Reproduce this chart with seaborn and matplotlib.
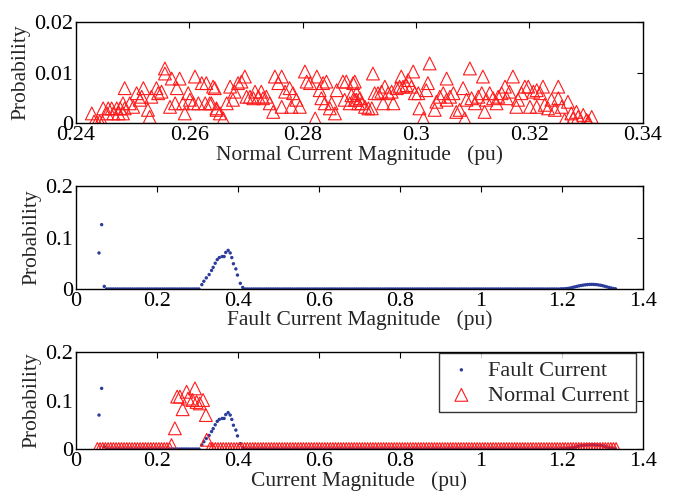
import numpy as np
import matplotlib
matplotlib.use("Agg")
import matplotlib.pyplot as plt
import seaborn as sns

# ---------------- data ----------------
# Top panel: normal current magnitude histogram (pu, probability)
normal_x = [0.2428, 0.2432, 0.2437, 0.2442, 0.2447, 0.2448, 0.2457, 0.2463, 0.2472, 0.2478,
            0.2486, 0.2455, 0.2466, 0.2475, 0.2483, 0.2483, 0.2486, 0.2495, 0.2501, 0.2507,
            0.2513, 0.2519, 0.2516, 0.2527, 0.2530, 0.2533, 0.2542, 0.2545, 0.2557, 0.2557,
            0.2551, 0.2566, 0.2569, 0.2578, 0.2583, 0.2575, 0.2589, 0.2598, 0.2601, 0.2610,
            0.2607, 0.2616, 0.2622, 0.2630, 0.2628, 0.2636, 0.2645, 0.2648, 0.2592,
            0.2642, 0.2639, 0.2648, 0.2654, 0.2660, 0.2672, 0.2680, 0.2686, 0.2692, 0.2698,
            0.2677, 0.2666, 0.2701, 0.2707, 0.2716, 0.2713, 0.2722, 0.2727, 0.2730, 0.2736,
            0.2742, 0.2748, 0.2751, 0.2763, 0.2757, 0.2769, 0.2763, 0.2777, 0.2783, 0.2780,
            0.2789, 0.2795, 0.2804, 0.2807, 0.2813, 0.2825, 0.2822, 0.2830, 0.2836, 0.2842,
            0.2833, 0.2839, 0.2851, 0.2848, 0.2857, 0.2860, 0.2871, 0.2877, 0.2874, 0.2883,
            0.2892, 0.2895, 0.2898,
            0.2889, 0.2895, 0.2886, 0.2892, 0.2901, 0.2904, 0.2910, 0.2916, 0.2922, 0.2924,
            0.2927, 0.2933, 0.2939, 0.2945, 0.2942, 0.2951, 0.2960, 0.2957, 0.2966, 0.2971,
            0.2974, 0.2977, 0.2983, 0.2986, 0.2992, 0.2995, 0.2998, 0.3004, 0.3006, 0.3013,
            0.3021, 0.3024, 0.3018, 0.3033, 0.3036, 0.3042, 0.3048, 0.3054, 0.3054, 0.3060,
            0.3066, 0.3071, 0.3077, 0.3083, 0.3086, 0.3089, 0.3095, 0.3098, 0.3104, 0.3110,
            0.3116, 0.3118, 0.3121, 0.3124, 0.3130, 0.3136, 0.3142,
            0.3145, 0.3151, 0.3157, 0.3160, 0.3165, 0.3171, 0.3177, 0.3180, 0.3186, 0.3192,
            0.3198, 0.3201, 0.3207, 0.3213, 0.3213, 0.3219, 0.3224, 0.3227, 0.3233, 0.3239,
            0.3245, 0.3251, 0.3251, 0.3257, 0.3262, 0.3268, 0.3274, 0.3277, 0.3283, 0.3286,
            0.3295, 0.3301, 0.3304, 0.3310]
normal_p = [0.0019, 0.0003, 0.0002, 0.0003, 0.0002, 0.0029, 0.0029, 0.0029, 0.0029, 0.0029,
            0.0029, 0.0019, 0.0019, 0.0019, 0.0019, 0.0039, 0.0069, 0.0039, 0.0032, 0.0059,
            0.0046, 0.0069, 0.0052, 0.0026, 0.0012, 0.0052, 0.0069, 0.0059, 0.0108, 0.0098,
            0.0062, 0.0032, 0.0088, 0.0069, 0.0088, 0.0039, 0.0039, 0.0059, 0.0046, 0.0092,
            0.0039, 0.0039, 0.0079, 0.0079, 0.0039, 0.0039, 0.0069, 0.0026, 0.0019,
            0.0072, 0.0039, 0.0029, 0.0019, 0.0009, 0.0072, 0.0062, 0.0079, 0.0082, 0.0092,
            0.0046, 0.0039, 0.0052, 0.0052, 0.0062, 0.0049, 0.0052, 0.0062, 0.0049, 0.0052,
            0.0039, 0.0022, 0.0092, 0.0092, 0.0079, 0.0062, 0.0032, 0.0069, 0.0059, 0.0032,
            0.0046, 0.0032, 0.0102, 0.0082, 0.0079, 0.0092, 0.0009, 0.0065, 0.0079, 0.0082,
            0.0049, 0.0039, 0.0039, 0.0029, 0.0019, 0.0065, 0.0082, 0.0082, 0.0046, 0.0039,
            0.0082, 0.0046, 0.0039,
            0.0079, 0.0059, 0.0055, 0.0046, 0.0049, 0.0039, 0.0032, 0.0029, 0.0029, 0.0098,
            0.0059, 0.0059, 0.0062, 0.0072, 0.0039, 0.0059, 0.0039, 0.0062, 0.0069, 0.0072,
            0.0092, 0.0072, 0.0075, 0.0085, 0.0072, 0.0102, 0.0059, 0.0059, 0.0029, 0.0009,
            0.0079, 0.0118, 0.0065, 0.0026, 0.0042, 0.0052, 0.0059, 0.0088, 0.0046, 0.0052,
            0.0059, 0.0022, 0.0026, 0.0069, 0.0009, 0.0046, 0.0108, 0.0049, 0.0039, 0.0052,
            0.0059, 0.0092, 0.0022, 0.0046, 0.0059, 0.0049, 0.0039,
            0.0052, 0.0059, 0.0072, 0.0049, 0.0062, 0.0092, 0.0032, 0.0046, 0.0059, 0.0072,
            0.0072, 0.0032, 0.0062, 0.0065, 0.0032, 0.0059, 0.0072, 0.0036, 0.0029, 0.0046,
            0.0026, 0.0072, 0.0049, 0.0032, 0.0006, 0.0042, 0.0019, 0.0009, 0.0022, 0.0012,
            0.0016, 0.0006, 0.0003, 0.0012]

# Middle panel: fault current magnitude histogram
fault_peak_x = [0.057, 0.0635, 0.070,
                0.311, 0.316, 0.322, 0.329, 0.335, 0.339, 0.344, 0.349, 0.354, 0.361,
                0.366, 0.370, 0.376, 0.381, 0.385, 0.389, 0.395, 0.399, 0.406, 0.412]
fault_peak_p = [0.070, 0.125, 0.005,
                0.0085, 0.015, 0.0216, 0.028, 0.036, 0.042, 0.050, 0.057, 0.061, 0.063,
                0.063, 0.071, 0.075, 0.070, 0.061, 0.049, 0.039, 0.027, 0.011, 0.003]
fault_zero_x = np.concatenate([np.arange(0.076, 0.309, 0.0053), np.arange(0.418, 1.200, 0.0053)])
fault_zero_p = np.zeros(len(fault_zero_x))
bump_x = np.linspace(1.200, 1.3325, 26)
bump_p = [0.0002, 0.0004, 0.0007, 0.0012, 0.0020, 0.0030, 0.0040, 0.0050, 0.0060, 0.0068,
          0.0075, 0.0081, 0.0086, 0.0089, 0.0090, 0.0088, 0.0085, 0.0080, 0.0073, 0.0064,
          0.0053, 0.0041, 0.0030, 0.0019, 0.0010, 0.0004]

fault_x = np.concatenate([fault_peak_x, fault_zero_x, bump_x])
fault_p = np.concatenate([fault_peak_p, fault_zero_p, bump_p])

# Bottom panel: normal current re-binned on the fault-current scale
norm2_peak_x = [0.236, 0.2444, 0.250, 0.2568, 0.2635, 0.2733, 0.277, 0.288, 0.294, 0.298,
                0.306, 0.314, 0.321, 0.323]
norm2_peak_p = [0.008, 0.0426, 0.108, 0.108, 0.082, 0.118, 0.104, 0.101, 0.125, 0.097,
                0.094, 0.101, 0.070, 0.019]
norm2_zero_x = np.concatenate([np.arange(0.053, 0.233, 0.0066), np.arange(0.331, 1.337, 0.0066)])
norm2_zero_p = np.zeros(len(norm2_zero_x))
norm2_x = np.concatenate([norm2_peak_x, norm2_zero_x])
norm2_p = np.concatenate([norm2_peak_p, norm2_zero_p])

top_xticks = [0.24, 0.26, 0.28, 0.30, 0.32, 0.34]
top_xticklabels = ["0.24", "0.26", "0.28", "0.3", "0.32", "0.34"]
top_yticks = [0, 0.01, 0.02]
top_yticklabels = ["0", "0.01", "0.02"]
wide_xticks = [0, 0.2, 0.4, 0.6, 0.8, 1.0, 1.2, 1.4]
wide_xticklabels = ["0", "0.2", "0.4", "0.6", "0.8", "1", "1.2", "1.4"]
wide_yticks = [0, 0.1, 0.2]
wide_yticklabels = ["0", "0.1", "0.2"]

# ---------------- style ----------------
sns.set_theme(style="white")
plt.rcParams["font.family"] = ["Liberation Serif", "DejaVu Serif"]

FS_TICK = 16
FS_LAB = 15.5
RED = "#ff1a1a"
BLUE = "#2b3c9c"

fig = plt.figure(figsize=(6.78, 4.95), dpi=100)
ax1 = fig.add_axes([0.112, 0.7515, 0.836, 0.204])
ax2 = fig.add_axes([0.112, 0.4162, 0.836, 0.208])
ax3 = fig.add_axes([0.112, 0.0929, 0.836, 0.196])

tri_kw = dict(marker="^", s=85, facecolor="none", edgecolor=RED, linewidth=0.8)
dot_kw = dict(marker="o", s=6, color=BLUE, edgecolor="none", linewidth=0)

sns.scatterplot(x=normal_x, y=normal_p, ax=ax1, **tri_kw)
sns.scatterplot(x=fault_x, y=fault_p, ax=ax2, **dot_kw)
sns.scatterplot(x=fault_x, y=fault_p, ax=ax3, label="Fault Current", **dot_kw)
sns.scatterplot(x=norm2_x, y=norm2_p, ax=ax3, label="Normal Current", **tri_kw)

def style(ax, xlim, ylim, xt, xtl, yt, ytl, xlabel):
    ax.set_xlim(*xlim)
    ax.set_ylim(*ylim)
    ax.set_xticks(xt)
    ax.set_xticklabels(xtl)
    ax.set_yticks(yt)
    ax.set_yticklabels(ytl)
    ax.tick_params(direction="in", length=4, width=0.8, top=True, right=True,
                   labelsize=FS_TICK, pad=2, colors="black")
    for sp in ax.spines.values():
        sp.set_visible(True)
        sp.set_color("black")
        sp.set_linewidth(1.0)
    ax.set_xlabel(xlabel, fontsize=FS_LAB, labelpad=0)
    ax.set_ylabel("Probability", fontsize=FS_LAB, labelpad=3)
    ax.set_facecolor("white")

style(ax1, (0.24, 0.34), (0, 0.02), top_xticks, top_xticklabels, top_yticks, top_yticklabels,
      "Normal Current Magnitude   (pu)")
style(ax2, (0, 1.4), (0, 0.2), wide_xticks, wide_xticklabels, wide_yticks, wide_yticklabels,
      "Fault Current Magnitude   (pu)")
style(ax3, (0, 1.4), (0, 0.2), wide_xticks, wide_xticklabels, wide_yticks, wide_yticklabels,
      "Current Magnitude   (pu)")

leg = ax3.legend(loc="upper right", bbox_to_anchor=(0.988, 0.985), borderaxespad=0,
                 fontsize=FS_TICK, frameon=True, fancybox=False, edgecolor="black",
                 borderpad=0.3, handletextpad=0.5, labelspacing=0.2, handlelength=1.4)
leg.get_frame().set_linewidth(1.0)

fig.savefig("out.png", dpi=100, facecolor="white")
